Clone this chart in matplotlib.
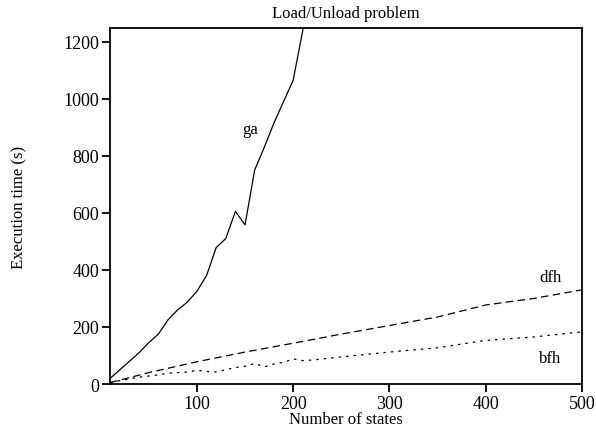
import matplotlib
matplotlib.use("Agg")
import matplotlib.pyplot as plt

# execution time (s) vs number of states
ga_x = [10, 20, 30, 40, 50, 60, 70, 80, 90, 100, 110, 120, 130, 140, 150, 160, 170, 180, 190, 200, 210, 220]
ga_y = [20, 50, 80, 110, 145, 175, 225, 260, 287, 325, 380, 478, 510, 605, 558, 750, 830, 915, 990, 1065, 1240, 1420]

dfh_x = [10, 50, 100, 150, 200, 250, 300, 350, 400, 450, 500]
dfh_y = [5, 40, 78, 112, 143, 175, 205, 235, 277, 300, 330]

bfh_x = [10, 20, 30, 40, 50, 60, 70, 80, 90, 100, 110, 120, 130, 140, 150, 160, 170, 180, 190, 200, 210, 220, 250, 300, 350, 400, 450, 500]
bfh_y = [5, 12, 18, 24, 28, 32, 38, 40, 42, 48, 44, 42, 50, 58, 62, 72, 60, 70, 76, 88, 82, 84, 95, 112, 127, 153, 165, 183]

xticks = [100, 200, 300, 400, 500]
yticks = [0, 200, 400, 600, 800, 1000, 1200]

plt.rcParams['font.family'] = ['Liberation Serif', 'DejaVu Serif']

fig = plt.figure(figsize=(5.96, 4.31), dpi=100)
ax = fig.add_axes([0.185, 0.1067, 0.7915, 0.826])

ax.plot(ga_x, ga_y, color="black", lw=0.9, linestyle="solid")
ax.plot(dfh_x, dfh_y, color="black", lw=0.9, linestyle=(0, (6, 3.5)))
ax.plot(bfh_x, bfh_y, color="black", lw=0.9, linestyle=(0, (2, 4)))

ax.text(155, 895, "ga", fontsize=12, ha="center", va="center")
ax.text(467, 375, "dfh", fontsize=12, ha="center", va="center")
ax.text(467, 90, "bfh", fontsize=12, ha="center", va="center")

ax.set_xlim(10, 500)
ax.set_ylim(0, 1248)
ax.set_xticks(xticks)
ax.set_yticks(yticks)
ax.tick_params(direction="out", length=6, width=1.3, labelsize=13, pad=2)
for s in ax.spines.values():
    s.set_linewidth(1.3)

ax.set_title("Load/Unload problem", fontsize=12, pad=8)
ax.set_xlabel("Number of states", fontsize=12, labelpad=-1)
ax.set_ylabel("Execution time (s)", fontsize=12, labelpad=26)

plt.savefig("out.png", dpi=100)
